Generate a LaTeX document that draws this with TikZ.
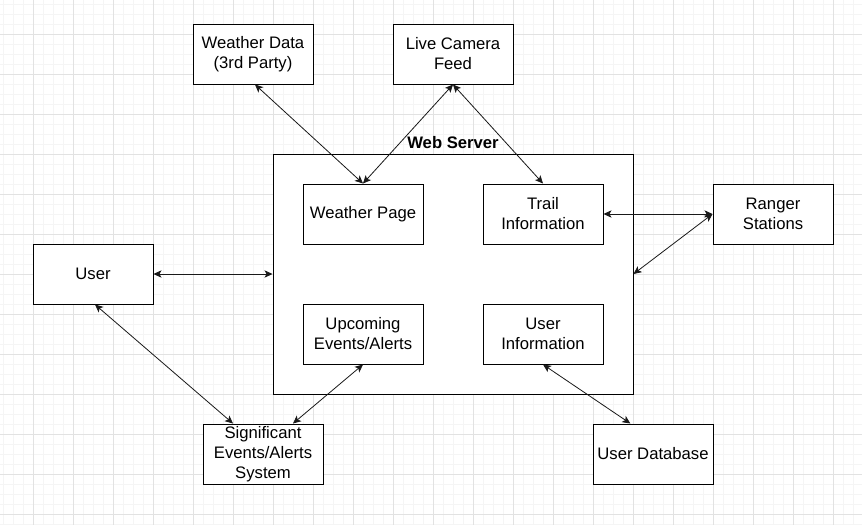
\documentclass[tikz,border=0pt]{standalone}
\usepackage{fontspec}
\setmainfont{Liberation Sans}
\usetikzlibrary{arrows.meta}
\definecolor{gridminor}{RGB}{245,245,245}
\definecolor{gridmajor}{RGB}{226,226,226}
\tikzset{
  box/.style={draw=black, line width=0.75pt, fill=white, minimum width=90pt, minimum height=45pt,
    inner sep=1pt, align=center, font=\fontsize{12.5}{15}\selectfont, text=black},
  container/.style={draw=black, line width=0.75pt, fill=white, minimum width=270pt, minimum height=180pt, inner sep=0pt},
  titlelabel/.style={font=\fontsize{12.5}{15}\selectfont\bfseries, text=black, inner sep=0pt},
  link/.style={draw=black!90, line width=0.6pt, {Stealth[length=6pt,width=5.5pt,inset=1.5pt]}-{Stealth[length=6pt,width=5.5pt,inset=1.5pt]}}
}
\begin{document}
\begin{tikzpicture}[x=0.75pt,y=-0.75pt]
\useasboundingbox (0,0) rectangle (862,525);
\fill[white] (0,0) rectangle (862,525);
% grid
\foreach \gx in {3,13,...,863} \draw[gridminor, line width=0.75pt] (\gx,0) -- (\gx,525);
\foreach \gy in {4,14,...,524} \draw[gridminor, line width=0.75pt] (0,\gy) -- (862,\gy);
\foreach \gx in {33,73,...,863} \draw[gridmajor, line width=0.75pt] (\gx,0) -- (\gx,525);
\foreach \gy in {34,74,...,524} \draw[gridmajor, line width=0.75pt] (0,\gy) -- (862,\gy);

% container
\node[container] (ws) at (453,274) {};
\node[titlelabel] (wslabel) at (453,143) {Web Server};

% boxes
\node[box] (wd) at (253,54) {Weather Data\\(3rd Party)};
\node[box] (cam) at (453,54) {Live Camera\\Feed};
\node[box] (wp) at (363,214) {Weather Page};
\node[box] (trail) at (543,214) {Trail\\Information};
\node[box] (upc) at (363,334) {Upcoming\\Events/Alerts};
\node[box] (uinfo) at (543,334) {User\\Information};
\node[box] (user) at (93,274) {User};
\node[box] (ranger) at (773,214) {Ranger\\Stations};
\node[box] (sig) at (263,454) {Significant\\Events/Alerts\\System};
\node[box] (udb) at (653,454) {User Database};

% connectors
\draw[link] ([xshift=1.5pt]wd.south) -- (wp.north);
\draw[link] (cam.south) -- (wp.north);
\draw[link] (cam.south) -- (trail.north);
\draw[link] (trail.east) -- (ranger.west);
\draw[link] (ranger.west) -- (ws.east);
\draw[link] (user.east) -- (ws.west);
\draw[link] ([xshift=1.5pt]user.south) -- ([xshift=-22.5pt]sig.north);
\draw[link] (upc.south) -- ([xshift=22.5pt]sig.north);
\draw[link] (uinfo.south) -- ([xshift=-17pt]udb.north);
\end{tikzpicture}
\end{document}
